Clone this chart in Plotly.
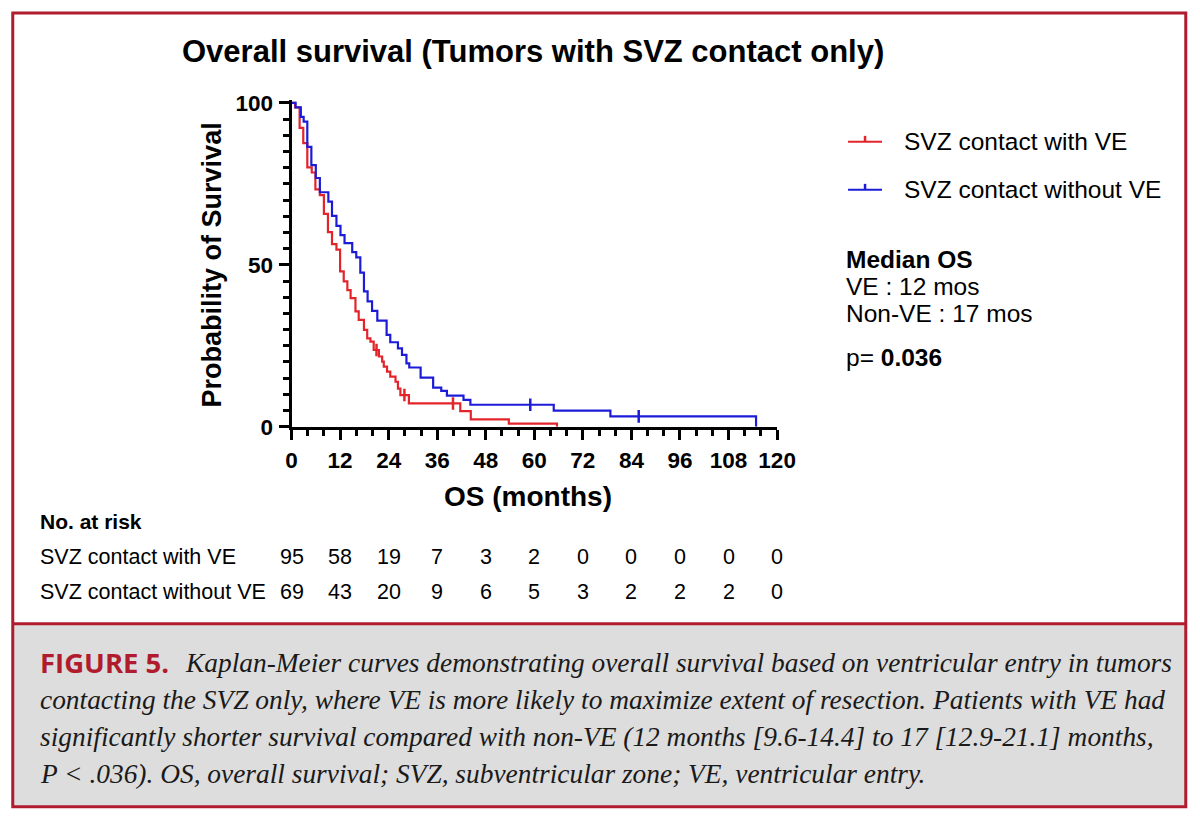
import plotly.graph_objects as go

# Kaplan-Meier steps (months, % surviving)
ve_time = [0, 0.9, 2.0, 2.9, 3.9, 5.0, 5.9, 7.0, 8.0, 9.0, 10.0, 11.1, 12.0, 12.9, 13.8,
           14.6, 15.8, 16.6, 17.9, 18.7, 19.5, 20.3, 21.6, 22.4, 22.8, 23.6, 24.4, 25.7,
           26.3, 26.9, 29.0, 41.7, 44.3, 53.7, 65.6]
ve_surv = [100, 98.6, 92.3, 87.6, 80.1, 78.5, 73.3, 71.5, 65.7, 60.1, 56.4, 54.7, 48.0, 44.9, 42.2,
           39.7, 35.6, 33.0, 29.9, 27.3, 26.3, 23.7, 21.7, 20.1, 18.6, 17.0, 15.5, 13.9,
           11.8, 9.8, 7.2, 4.8, 2.3, 1.0, 0]
ve_cens_time = [21.0, 27.9, 39.9]
ve_cens_surv = [23.7, 9.8, 7.2]

nonve_time = [0, 1.0, 2.3, 3.0, 3.9, 4.9, 6.0, 7.0, 9.1, 10.0, 11.1, 12.1, 13.1, 15.0, 16.0,
              17.0, 17.9, 18.8, 19.9, 21.2, 23.5, 24.4, 26.3, 27.3, 28.4, 29.1, 31.9, 35.0,
              37.0, 38.4, 42.5, 44.2, 64.8, 78.8, 114.8]
nonve_surv = [100, 98.6, 95.7, 94.2, 86.4, 80.8, 76.8, 72.4, 69.5, 65.1, 62.0, 59.2, 56.7, 53.9, 52.3,
              47.6, 41.8, 38.7, 35.8, 32.8, 28.4, 26.1, 24.2, 22.2, 19.6, 18.3, 15.2, 12.1,
              11.1, 9.6, 8.3, 6.8, 5.0, 3.2, 0]
nonve_cens_time = [59.0, 85.8]
nonve_cens_surv = [6.8, 3.2]

# number at risk table
risk_times = [0, 12, 24, 36, 48, 60, 72, 84, 96, 108, 120]
risk_ve = [95, 58, 19, 7, 3, 2, 0, 0, 0, 0, 0]
risk_nonve = [69, 43, 20, 9, 6, 5, 3, 2, 2, 2, 0]

RED = "#e3242b"
BLUE = "#1c1cd8"
FRAME = "#b01c2e"
W, H = 1200, 823
OFF = 8  # body margin of the html page

# the captured page comes back slightly shrunk and shifted; these undo it
SX, AX = 0.980, 5.4
SY, AY = 0.9736, 8.3


def px(x):
    return ((x - AX) / SX - OFF) / W


def py(y):
    return 1 - ((y - AY) / SY - OFF) / H


fig = go.Figure()
fig.add_trace(go.Scatter(x=ve_time, y=ve_surv, mode="lines", line=dict(color=RED, width=2.2, shape="hv"),
                         name="SVZ contact with VE"))
fig.add_trace(go.Scatter(x=nonve_time, y=nonve_surv, mode="lines", line=dict(color=BLUE, width=2.2, shape="hv"),
                         name="SVZ contact without VE"))
fig.add_trace(go.Scatter(x=ve_cens_time, y=ve_cens_surv, mode="markers",
                         marker=dict(symbol="line-ns", size=9, line=dict(color=RED, width=2.5))))
fig.add_trace(go.Scatter(x=nonve_cens_time, y=nonve_cens_surv, mode="markers",
                         marker=dict(symbol="line-ns", size=9, line=dict(color=BLUE, width=2.5))))

sans = "Liberation Sans, Arial, sans-serif"
axis_font = dict(family=sans, size=22.5, color="black", weight="bold")

fig.update_xaxes(range=[0, 120], domain=[px(291), px(777)], tickvals=risk_times,
                 showline=True, linewidth=3, linecolor="black", showgrid=False, zeroline=False,
                 ticks="outside", ticklen=10, tickwidth=3, tickcolor="black",
                 tickfont=axis_font, ticklabelstandoff=1,
                 minor=dict(dtick=4, ticks="outside", ticklen=6, tickwidth=2.5, tickcolor="black"))
fig.update_yaxes(range=[0, 101], domain=[py(426), py(426 - 101 * 3.24)], tickvals=[0, 50, 100],
                 showline=True, linewidth=3, linecolor="black", showgrid=False, zeroline=False,
                 ticks="outside", ticklen=10, tickwidth=3, tickcolor="black",
                 tickfont=axis_font, ticklabelstandoff=1,
                 minor=dict(dtick=5, ticks="outside", ticklen=6, tickwidth=2.5, tickcolor="black"))

ann = []
ann.append(dict(text="<b>Overall survival (Tumors with SVZ contact only)</b>", x=px(533), y=py(51),
                xanchor="center", font=dict(family=sans, size=31, color="black")))
ann.append(dict(text="<b>Probability of Survival</b>", x=px(211), y=py(264), textangle=-90,
                xanchor="center", font=dict(family=sans, size=27, color="black")))
ann.append(dict(text="<b>OS (months)</b>", x=px(528), y=py(496),
                xanchor="center", font=dict(family=sans, size=28, color="black")))

# legend drawn by hand so the censor tick shows on the sample line
legend_rows = [("SVZ contact with VE", RED, 141), ("SVZ contact without VE", BLUE, 189)]
shapes = []
for label, col, yy in legend_rows:
    shapes.append(dict(type="line", xref="paper", yref="paper", x0=px(848), x1=px(882), y0=py(yy), y1=py(yy),
                       line=dict(color=col, width=2)))
    shapes.append(dict(type="line", xref="paper", yref="paper", x0=px(865), x1=px(865), y0=py(yy), y1=py(yy - 6),
                       line=dict(color=col, width=2.5)))
    ann.append(dict(text=label, x=px(902), y=py(yy), xanchor="left",
                    font=dict(family=sans, size=24.5, color="black")))

ann.append(dict(text="<b>Median OS</b>", x=px(844), y=py(259), xanchor="left",
                font=dict(family=sans, size=24.5, color="black")))
ann.append(dict(text="VE : 12 mos", x=px(844), y=py(286), xanchor="left",
                font=dict(family=sans, size=24.5, color="black")))
ann.append(dict(text="Non-VE : 17 mos", x=px(844), y=py(313), xanchor="left",
                font=dict(family=sans, size=24.5, color="black")))
ann.append(dict(text="p= <b>0.036</b>", x=px(844), y=py(357), xanchor="left",
                font=dict(family=sans, size=24.5, color="black")))

# at-risk table
ann.append(dict(text="<b>No. at risk</b>", x=px(37), y=py(521), xanchor="left",
                font=dict(family=sans, size=21, color="black")))
for label, counts, yy in [("SVZ contact with VE", risk_ve, 556), ("SVZ contact without VE", risk_nonve, 591)]:
    ann.append(dict(text=label, x=px(37), y=py(yy), xanchor="left",
                    font=dict(family=sans, size=21.5, color="black")))
    for t, n in zip(risk_times, counts):
        ann.append(dict(text=str(n), x=t, xref="x", y=py(yy), yref="paper", xanchor="center",
                        font=dict(family=sans, size=21.5, color="black")))

# caption
serif = "Liberation Serif, Times New Roman, serif"
cap_lines = [
    "Kaplan-Meier curves demonstrating overall survival based on ventricular entry in tumors",
    "contacting the SVZ only, where VE is more likely to maximize extent of resection. Patients with VE had",
    "significantly shorter survival compared with non-VE (12 months [9.6-14.4] to 17 [12.9-21.1] months,",
    "P &lt; .036). OS, overall survival; SVZ, subventricular zone; VE, ventricular entry.",
]
cap_y = [662, 699, 736, 773]
ann.append(dict(text="<b>FIGURE 5.</b>", x=px(37), y=py(cap_y[0]), xanchor="left",
                font=dict(family="Open Sans, sans-serif", size=27.5, color=FRAME)))
ann.append(dict(text="<i>" + cap_lines[0] + "</i>", x=px(182), y=py(cap_y[0]), xanchor="left",
                font=dict(family=serif, size=27.4, color="#1a1a1a")))
for line, yy in zip(cap_lines[1:], cap_y[1:]):
    ann.append(dict(text="<i>" + line + "</i>", x=px(37), y=py(yy), xanchor="left",
                    font=dict(family=serif, size=27.4, color="#1a1a1a")))

for a in ann:
    a.setdefault("xref", "paper")
    a.setdefault("yref", "paper")
    a.setdefault("showarrow", False)
    a.setdefault("yanchor", "middle")

# frame and grey caption panel
shapes.insert(0, dict(type="rect", xref="paper", yref="paper", x0=px(12), x1=px(1186), y0=py(806), y1=py(623),
                      fillcolor="#dddddd", line=dict(width=0), layer="below"))
shapes.append(dict(type="rect", xref="paper", yref="paper", x0=px(12), x1=px(1186), y0=py(806), y1=py(12),
                   line=dict(color=FRAME, width=3)))
shapes.append(dict(type="line", xref="paper", yref="paper", x0=px(12), x1=px(1186), y0=py(623), y1=py(623),
                   line=dict(color=FRAME, width=3)))

fig.update_layout(width=W, height=H, margin=dict(l=0, r=0, t=0, b=0),
                  paper_bgcolor="white", plot_bgcolor="white", showlegend=False,
                  annotations=ann, shapes=shapes)

fig.write_html("out.html")
